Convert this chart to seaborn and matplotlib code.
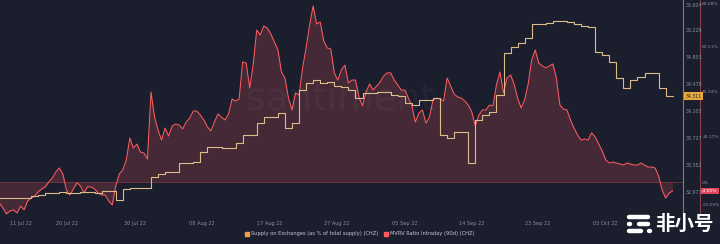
import numpy as np
import pandas as pd
import matplotlib
matplotlib.use("Agg")
import matplotlib.pyplot as plt
import matplotlib.transforms as mtransforms
from matplotlib.patches import Patch
from matplotlib.lines import Line2D
import seaborn as sns

# ---------------- data ----------------
mvrv_start = "2022-07-09 12:00"   # 12-hour samples
mvrv_values = [
    -9.4, -11.7, -14.3, -13.0, -12.5, -13.9, -10.8, -12.5, -8.5, -7.2,
    -6.3, -4.5, -3.1, -2.2, 0.0, 1.8, 4.5, 6.3, 3.6, -3.6,
    -5.8, -3.1, -0.4, -1.8, -4.9, -2.2, -2.2, -3.1, -4.9, -5.8,
    -5.8, -8.5, -10.3, -1.8, 3.6, 5.4, 9.9, 19.7, 15.2, 17.0,
    13.4, 13.0, 10.3, 40.3, 29.1, 23.3, 18.8, 24.2, 20.6, 25.1,
    26.0, 25.5, 23.8, 26.9, 28.7, 31.8, 31.8, 30.0, 27.8, 24.7,
    22.9, 26.9, 30.5, 29.1, 27.8, 30.5, 37.2, 36.3, 37.2, 53.8,
    53.3, 42.1, 52.9, 68.1, 65.9, 69.9, 69.0, 66.3, 62.7, 59.2,
    49.3, 46.6, 37.6, 32.3, 39.9, 39.0, 51.1, 60.1, 70.4, 78.9,
    70.8, 71.7, 63.2, 60.1, 59.6, 48.9, 45.7, 50.2, 52.4, 44.4,
    45.7, 45.7, 38.1, 34.1, 40.3, 43.9, 41.2, 43.0, 44.8, 47.5,
    48.9, 48.9, 45.7, 43.5, 41.2, 41.2, 37.6, 34.1, 26.9, 30.9,
    32.3, 26.4, 29.1, 36.8, 37.6, 37.2, 36.3, 46.6, 43.0, 39.4,
    38.1, 37.6, 36.3, 34.5, 31.4, 25.1, 30.0, 32.3, 32.3, 34.5,
    34.1, 43.5, 49.3, 39.9, 46.6, 48.0, 43.9, 37.6, 33.2, 36.8,
    43.9, 54.7, 59.2, 53.3, 52.0, 51.1, 52.0, 52.9, 46.6, 34.5,
    32.7, 32.3, 27.8, 24.2, 21.1, 18.8, 19.3, 18.8, 22.0, 20.2,
    17.0, 13.9, 9.9, 8.5, 9.0, 8.5, 8.1, 7.6, 8.5, 8.1,
    7.6, 7.6, 8.5, 7.6, 6.7, 6.7, 6.3, 2.7, -3.6, -7.2,
    -4.9, -4.0,
]

supply_start = "2022-07-09"       # daily samples
supply_values = [
    32.894, 32.894, 32.894, 32.894, 32.894, 32.921, 32.935, 32.963, 32.963, 32.977,
    32.963, 32.963, 32.977, 32.977, 32.963, 32.991, 32.991, 32.866, 33.019, 33.033,
    33.033, 33.033, 33.185, 33.227, 33.255, 33.255, 33.380, 33.380, 33.394, 33.533,
    33.602, 33.602, 33.589, 33.589, 33.658, 33.769, 33.769, 33.936, 34.019, 34.019,
    34.075, 33.867, 33.936, 34.395, 34.492, 34.534, 34.492, 34.506, 34.450, 34.436,
    34.395, 34.284, 34.353, 34.353, 34.367, 34.367, 34.325, 34.311, 34.214, 34.186,
    34.256, 34.256, 34.284, 33.769, 33.728, 33.811, 33.811, 33.380, 33.978, 34.047,
    34.089, 34.325, 34.909, 34.992, 35.048, 35.118, 35.312, 35.312, 35.326, 35.354,
    35.354, 35.340, 35.312, 35.284, 35.270, 34.923, 34.881, 34.784, 34.562, 34.423,
    34.534, 34.575, 34.631, 34.631, 34.423, 34.311, 34.311,
]

series_names = ["Supply on Exchanges (as % of total supply) (CHZ)",
                "MVRV Ratio Intraday (90d) (CHZ)"]

xtick_dates = ["2022-07-11 00:00", "2022-07-19 02:00", "2022-07-28 18:00",
               "2022-08-07 06:00", "2022-08-16 21:00", "2022-08-26 09:00",
               "2022-09-05 00:00", "2022-09-14 13:00", "2022-09-23 21:00",
               "2022-10-03 10:00"]
xtick_labels = ["11 Jul 22", "20 Jul 22", "30 Jul 22", "08 Aug 22", "17 Aug 22",
                "27 Aug 22", "05 Sep 22", "14 Sep 22", "23 Sep 22", "03 Oct 22"]

supply_ticks = [35.604, 35.229, 34.853, 34.478, 34.103, 33.727, 33.352, 32.977]
mvrv_ticks = [80.68, 60.51, 40.34, 20.17, 0.0, -10.09]
mvrv_tick_labels = ["80.68%", "60.51%", "40.34%", "20.17%", "0%", "-10.09%"]

# ---------------- style ----------------
BG = "#1b1e2d"
RED = "#ff5b5f"
TAN = "#dcbd8a"
ORANGE = "#f0a04b"
LABEL = "#8a8fa0"

sns.set_theme(style="dark")
plt.rcParams["font.family"] = ["DejaVu Sans"]

W, H = 720, 244
fig = plt.figure(figsize=(W / 100, H / 100), dpi=100, facecolor=BG)
ax = fig.add_axes([0, 29 / H, 683 / W, 215 / H])
ax.set_facecolor(BG)
ax2 = ax.twinx()
ax2.patch.set_visible(False)

mvrv_df = pd.DataFrame({
    "time": pd.date_range(mvrv_start, periods=len(mvrv_values), freq="12h"),
    "mvrv": mvrv_values,
})
supply_df = pd.DataFrame({
    "time": pd.date_range(supply_start, periods=len(supply_values), freq="D"),
    "supply": supply_values,
})

# MVRV area + line
ax.fill_between(mvrv_df["time"], mvrv_df["mvrv"], 0, color=RED, alpha=0.19, lw=0)
ax.axhline(0, color=RED, alpha=0.35, lw=0.6)
sns.lineplot(data=mvrv_df, x="time", y="mvrv", ax=ax, color=RED, lw=0.75)

# Supply step line
sns.lineplot(data=supply_df, x="time", y="supply", ax=ax2, color=TAN, lw=0.8,
             drawstyle="steps-post")

t0 = pd.Timestamp("2022-07-11")
ax.set_xlim(t0 - pd.Timedelta(days=1.418), t0 + pd.Timedelta(days=95.46))
ax.set_ylim(-14.79, 81.57)
ax2.set_ylim(32.657, 35.646)

for a in (ax, ax2):
    a.grid(False)
    a.set_xlabel("")
    a.set_ylabel("")
    for s in a.spines.values():
        s.set_visible(False)

# x ticks
ax.set_xticks(pd.to_datetime(xtick_dates))
ax.set_xticklabels(xtick_labels)
ax.tick_params(axis="x", length=0, pad=4, labelsize=3.6, labelcolor=LABEL)
ax.get_xticklabels()[0].set_horizontalalignment("left")

# supply axis (right edge)
ax2.spines["right"].set_visible(True)
ax2.spines["right"].set_color("#8c7a5c")
ax2.spines["right"].set_linewidth(0.8)
ax2.set_yticks(supply_ticks)
ax2.set_yticklabels([f"{v:.3f}" for v in supply_ticks])
ax2.tick_params(axis="y", length=0, pad=2.2, labelsize=3.4, labelcolor=LABEL)
ax2.get_yticklabels()[0].set_verticalalignment("top")

# MVRV axis (offset right)
ax.yaxis.tick_right()
ax.spines["right"].set_visible(True)
ax.spines["right"].set_position(("axes", 700 / 683))
ax.spines["right"].set_color("#8a3f4a")
ax.spines["right"].set_linewidth(0.8)
ax.set_yticks(mvrv_ticks)
ax.set_yticklabels(mvrv_tick_labels)
ax.tick_params(axis="y", length=0, pad=1.6, labelsize=3.2, labelcolor=LABEL)
ax.get_yticklabels()[0].set_verticalalignment("top")

# last-value badges
tr2 = mtransforms.blended_transform_factory(ax2.transAxes, ax2.transData)
ax2.text(1.004, supply_values[-1], f"{supply_values[-1]:.3f}", transform=tr2,
         ha="left", va="center", fontsize=3.3, color=BG, zorder=10,
         bbox=dict(boxstyle="square,pad=0.3", fc="#e6a93e", ec="none"))
tr1 = mtransforms.blended_transform_factory(ax.transAxes, ax.transData)
ax.text(700 / 683 + 0.003, mvrv_values[-1], f"{mvrv_values[-1]:.2f}%", transform=tr1,
        ha="left", va="center", fontsize=3.2, color="white", zorder=10,
        bbox=dict(boxstyle="square,pad=0.3", fc="#e2465a", ec="none"))

# watermark
fig.text(340 / W, 1 - 100 / H, "santiment", fontsize=27, color="white", alpha=0.035,
         ha="center", va="center")

# legend
handles = [Patch(color=ORANGE), Patch(color=RED)]
fig.legend(handles, series_names, loc="center", bbox_to_anchor=(360 / W, 10 / H),
           ncol=2, frameon=False, fontsize=3.7, labelcolor="#c5c8d3",
           handlelength=0.7, handleheight=0.7, handletextpad=0.4, columnspacing=1.2)

# 非小号 logo
def fpt(x, y):
    return x / W, 1 - y / H

for (xa, ya), (xb, yb) in [((629, 217), (648, 217)), ((629, 224), (630, 224)),
                           ((639, 224), (648, 224)), ((629, 231), (641, 231)),
                           ((649, 231), (650, 231))]:
    p1, p2 = fpt(xa, ya), fpt(xb, yb)
    fig.add_artist(Line2D([p1[0], p2[0]], [p1[1], p2[1]], transform=fig.transFigure,
                          color="white", lw=3.2, solid_capstyle="round"))
fig.text(684 / W, 1 - 224 / H, "非小号", fontsize=14, fontweight="bold",
         family=["Noto Sans CJK SC", "DejaVu Sans"], color="white",
         ha="center", va="center")

fig.savefig("out.png", dpi=100, facecolor=BG)
